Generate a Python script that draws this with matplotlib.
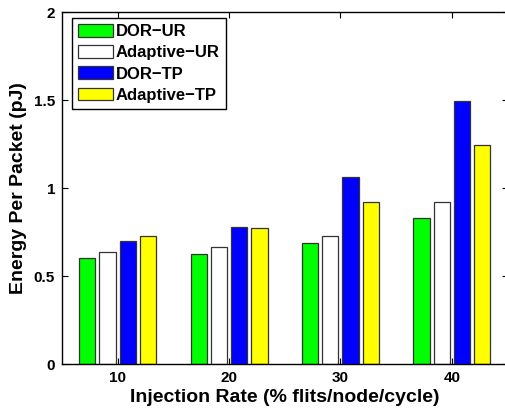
import matplotlib
matplotlib.use("Agg")
import matplotlib.pyplot as plt
import numpy as np

plt.rcParams['font.family'] = ['Liberation Sans', 'DejaVu Sans']
plt.rcParams['font.weight'] = 'bold'

categories = ['10', '20', '30', '40']
series_names = ['DOR\u2212UR', 'Adaptive\u2212UR', 'DOR\u2212TP', 'Adaptive\u2212TP']
dor_ur = [0.60, 0.625, 0.69, 0.83]
adaptive_ur = [0.636, 0.665, 0.73, 0.92]
dor_tp = [0.70, 0.78, 1.063, 1.494]
adaptive_tp = [0.727, 0.773, 0.922, 1.244]
colors = ['#00ff00', '#ffffff', '#0000ff', '#ffff00']
yticks = [0, 0.5, 1, 1.5, 2]
ytick_labels = ['0', '0.5', '1', '1.5', '2']

series = [dor_ur, adaptive_ur, dor_tp, adaptive_tp]

fig = plt.figure(figsize=(5.06, 4.11), dpi=100)
ax = fig.add_axes([62/506, (411-364)/411, (507.5-62)/506, (364-12.3)/411])

n = len(series)
gw = min(0.8, n/(n+1.5))
bw = gw/n*0.8
x = np.arange(1, len(categories)+1)
for i, (vals, c, name) in enumerate(zip(series, colors, series_names)):
    off = -gw/2 + (2*i+1)*gw/(2*n)
    ax.bar(x+off, vals, width=bw, color=c, edgecolor='#333333', linewidth=0.9, label=name)

ax.set_xlim(0.5, 4.5)
ax.set_ylim(0, 2)
ax.set_xticks(x)
ax.set_xticklabels(categories)
ax.set_yticks(yticks)
ax.set_yticklabels(ytick_labels)
ax.tick_params(direction='in', top=True, right=True, length=4, width=0.8, labelsize=11, pad=5)
for s in ax.spines.values():
    s.set_linewidth(1.0)
ax.spines['right'].set_visible(False)
ax.set_xlabel('Injection Rate (% flits/node/cycle)', fontsize=14, fontweight='bold', labelpad=3)
ax.set_ylabel('Energy Per Packet (pJ)', fontsize=14, fontweight='bold', labelpad=5)

leg = ax.legend(loc='upper left', bbox_to_anchor=(0.0218, 0.983), fontsize=12, frameon=True,
                fancybox=False, edgecolor='black', handlelength=2.1, handleheight=0.8,
                labelspacing=0.36, borderaxespad=0, handletextpad=0.2, borderpad=0.35)
leg.get_frame().set_linewidth(1.0)
leg.get_frame().set_alpha(1)

fig.savefig('out.png', dpi=100)
